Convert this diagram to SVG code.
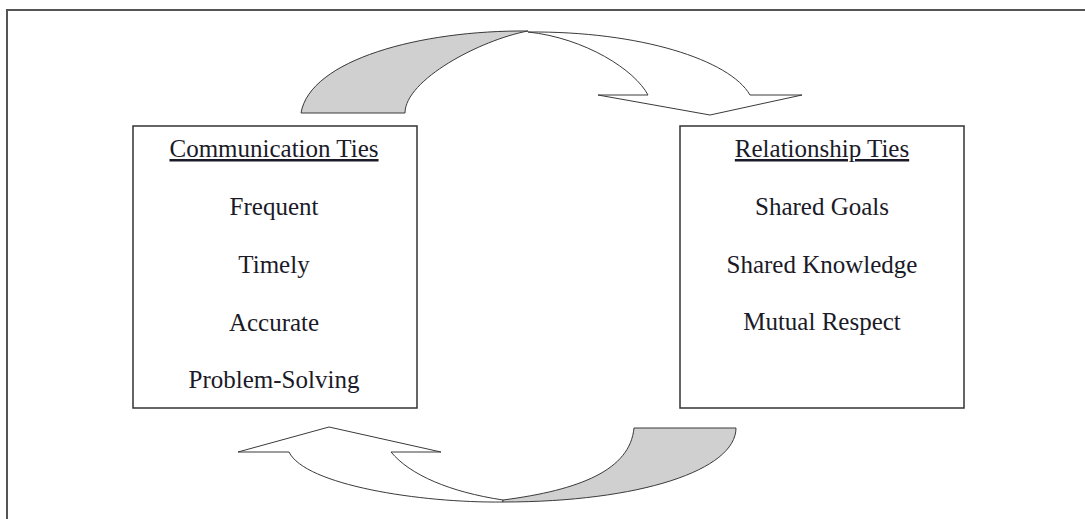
<svg xmlns="http://www.w3.org/2000/svg" width="1085" height="519" viewBox="0 0 1085 519">
<style>
.t{font-family:"Liberation Serif","Times New Roman",serif;font-size:25px;fill:#1a1a28;text-anchor:middle}
.h{text-decoration:underline}
.box{fill:#fff;stroke:#333;stroke-width:1.5}
.band{stroke:#3a3a3a;stroke-width:1;stroke-linejoin:miter}
.w{fill:#fff}
.g{fill:#d0d0d0}
</style>
<rect width="1085" height="519" fill="#fff"/>
<path d="M7,519 V10 H1085" fill="none" stroke="#555" stroke-width="2"/>
<g id="connectors">
<g id="top-arrow">
<path class="band w" d="M528,32 C640,31 730,60 750,95 L802,95 L710,115 L598,95 L648,95 C635,70 585,38 528,32 Z"/>
<path class="band g" d="M301,113 C310,60 420,30 528,31 C480,40 405,80 405,113 Z"/>
</g>
<g id="bottom-arrow">
<path class="band w" d="M503,502 C420,503 305,485 289,452 L238,452 L329,427 L441,452 L391,452 C410,475 450,492 503,500 Z"/>
<path class="band g" d="M503,500 C580,490 630,470 634,428 L736,428 C736,470 640,502 503,502 Z"/>
</g>
</g>
<g id="communication-ties">
<rect class="box" x="133" y="126" width="284" height="282"/>
<text class="t h" x="274" y="157">Communication Ties</text>
<text class="t" x="274" y="215">Frequent</text>
<text class="t" x="274" y="273">Timely</text>
<text class="t" x="274" y="331">Accurate</text>
<text class="t" x="274" y="388">Problem-Solving</text>
</g>
<g id="relationship-ties">
<rect class="box" x="680" y="126" width="284" height="282"/>
<text class="t h" x="822" y="157">Relationship Ties</text>
<text class="t" x="822" y="215">Shared Goals</text>
<text class="t" x="822" y="273">Shared Knowledge</text>
<text class="t" x="822" y="330">Mutual Respect</text>
</g>
</svg>
